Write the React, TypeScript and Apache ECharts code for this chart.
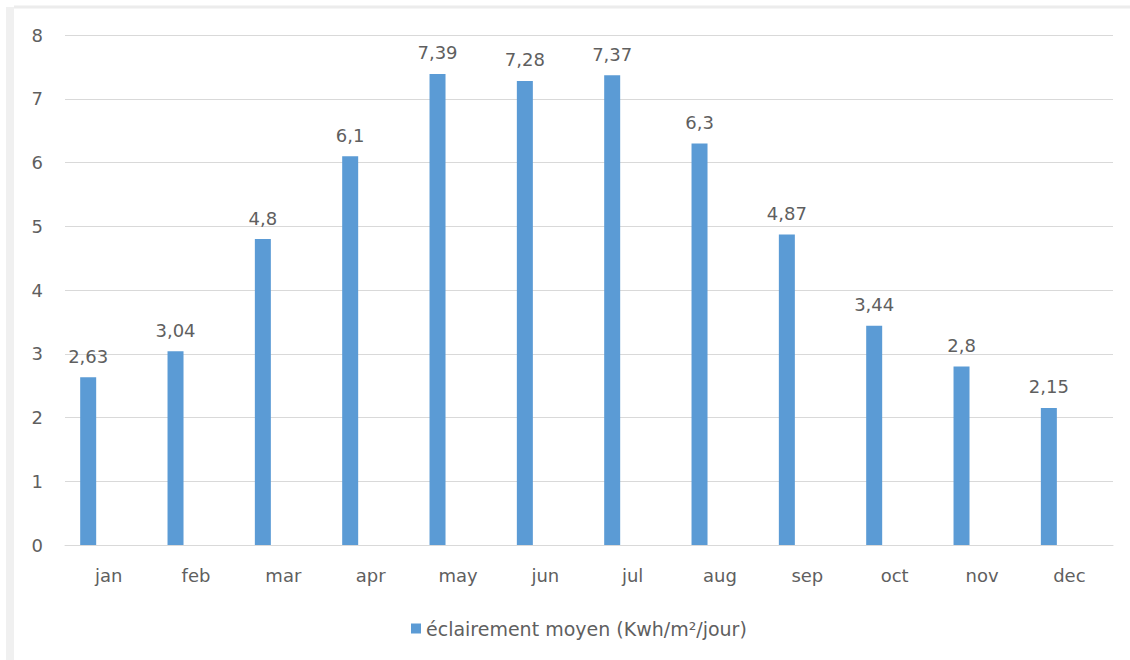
import React, { useEffect, useRef } from "react";
import * as echarts from "echarts";

const months = ["jan", "feb", "mar", "apr", "may", "jun", "jul", "aug", "sep", "oct", "nov", "dec"];
const irradiance = [2.63, 3.04, 4.8, 6.1, 7.39, 7.28, 7.37, 6.3, 4.87, 3.44, 2.8, 2.15];
const emptySlot = [null, null, null, null, null, null, null, null, null, null, null, null];
const seriesName = "éclairement moyen (Kwh/m²/jour)";
const yTicks = { min: 0, max: 8, interval: 1 };

const FONT = "'DejaVu Sans', sans-serif";
const TEXT = "#5f5f5f";

export default function App() {
  const ref = useRef<HTMLDivElement>(null);
  useEffect(() => {
    if (!ref.current) return;
    const chart = echarts.init(ref.current, null, { renderer: "svg" });
    chart.setOption({
      animation: false,
      backgroundColor: "#ffffff",
      textStyle: { fontFamily: FONT },
      graphic: [
        { type: "line", shape: { x1: 14, y1: 7, x2: 1130, y2: 7 }, style: { stroke: "#ececec", lineWidth: 3 } },
        { type: "line", shape: { x1: 10, y1: 7, x2: 10, y2: 660 }, style: { stroke: "#f0f0f0", lineWidth: 8 } },
      ],
      grid: { left: 65, right: 17, top: 35, bottom: 115, containLabel: false },
      legend: {
        data: [seriesName],
        left: 406,
        top: 614,
        itemWidth: 10,
        itemHeight: 10,
        icon: "rect",
        itemGap: 8,
        textStyle: { color: TEXT, fontSize: 19, fontFamily: FONT },
      },
      xAxis: {
        type: "category",
        data: months,
        axisLine: { lineStyle: { color: "#d9d9d9", width: 1 } },
        axisTick: { show: false },
        axisLabel: { color: TEXT, fontSize: 18, margin: 21, fontFamily: FONT },
      },
      yAxis: {
        type: "value",
        min: yTicks.min,
        max: yTicks.max,
        interval: yTicks.interval,
        axisLine: { show: false },
        axisTick: { show: false },
        splitLine: { lineStyle: { color: "#d9d9d9", width: 1 } },
        axisLabel: { color: TEXT, fontSize: 18, margin: 22, fontFamily: FONT },
      },
      series: [
        {
          name: seriesName,
          type: "bar",
          data: irradiance,
          barWidth: 16,
          barGap: "156%",
          itemStyle: { color: "#5b9bd5" },
          label: {
            show: true,
            position: "top",
            distance: 12,
            color: TEXT,
            fontSize: 18,
            fontFamily: FONT,
            formatter: (p: any) => String(p.value).replace(".", ","),
          },
        },
        {
          name: "_",
          type: "bar",
          data: emptySlot,
          barWidth: 16,
          itemStyle: { color: "transparent" },
        },
      ],
    });
    return () => chart.dispose();
  }, []);
  return (
    <div
      ref={ref}
      style={{ position: "absolute", left: 0, top: 0, width: 1130, height: 660 }}
    />
  );
}
